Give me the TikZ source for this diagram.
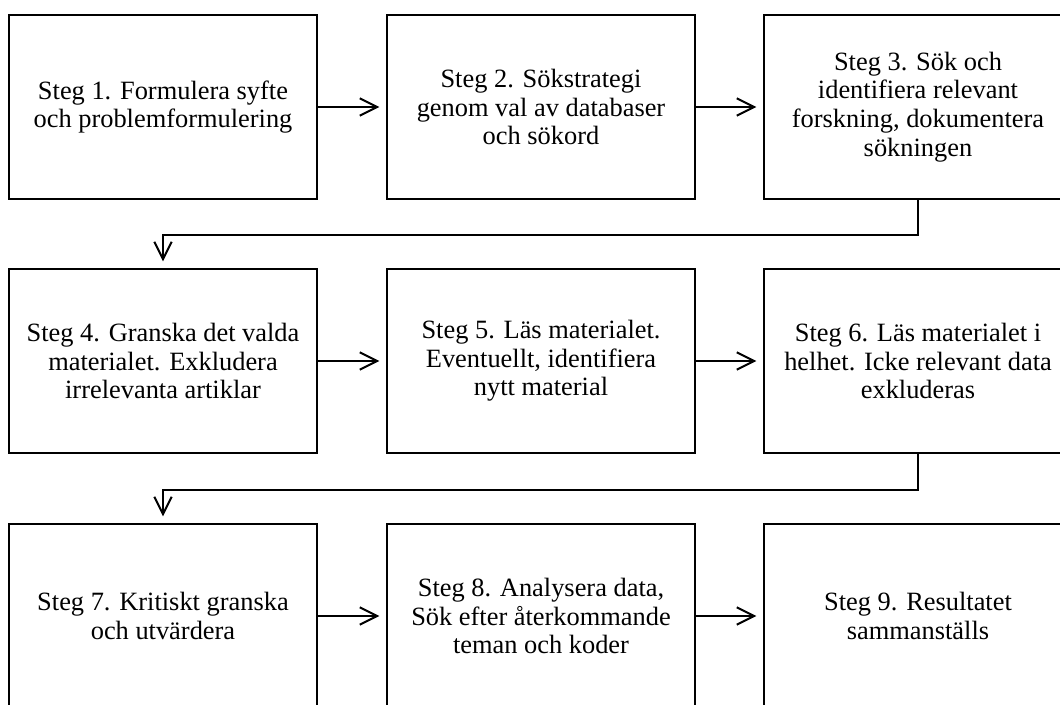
\documentclass[tikz,border=0pt]{standalone}
\usepackage{fontspec}
\setmainfont{Liberation Serif}
\usetikzlibrary{arrows.meta}
\begin{document}
\begin{tikzpicture}[x=0.75pt,y=-0.75pt,
		stepbox/.style={draw,line width=1.5pt,minimum width=231pt,minimum height=138pt,inner sep=0pt,align=center,font=\fontsize{19.8}{21.5}\selectfont},
		flow/.style={line width=1.5pt,-{Straight Barb[length=13pt,width=13pt,line width=1.5pt]},shorten >=5pt}]
			\clip (0,0) rectangle (1060,705);
			\node[stepbox] (s1) at (163,107) {Steg 1. Formulera syfte\\och problemformulering};
			\node[stepbox] (s2) at (541,107) {Steg 2. Sökstrategi\\genom val av databaser\\och sökord};
			\node[stepbox] (s3) at (918,107) {Steg 3. Sök och\\identifiera relevant\\forskning, dokumentera\\sökningen};
			\node[stepbox] (s4) at (163,361) {Steg 4. Granska det valda\\materialet. Exkludera\\irrelevanta artiklar};
			\node[stepbox] (s5) at (541,361) {Steg 5. Läs materialet.\\Eventuellt, identifiera\\nytt material};
			\node[stepbox] (s6) at (918,361) {Steg 6. Läs materialet i\\helhet. Icke relevant data\\exkluderas};
			\node[stepbox] (s7) at (163,616) {Steg 7. Kritiskt granska\\och utvärdera};
			\node[stepbox] (s8) at (541,616) {Steg 8. Analysera data,\\Sök efter återkommande\\teman och koder};
			\node[stepbox] (s9) at (918,616) {Steg 9. Resultatet\\sammanställs};
			\draw[flow] (s1) -- (s2);
			\draw[flow] (s2) -- (s3);
			\draw[flow] (s3.south) -- ++(0,35) -| (s4.north);
			\draw[flow] (s4) -- (s5);
			\draw[flow] (s5) -- (s6);
			\draw[flow] (s6.south) -- ++(0,36) -| (s7.north);
			\draw[flow] (s7) -- (s8);
			\draw[flow] (s8) -- (s9);
		\end{tikzpicture}
\end{document}
